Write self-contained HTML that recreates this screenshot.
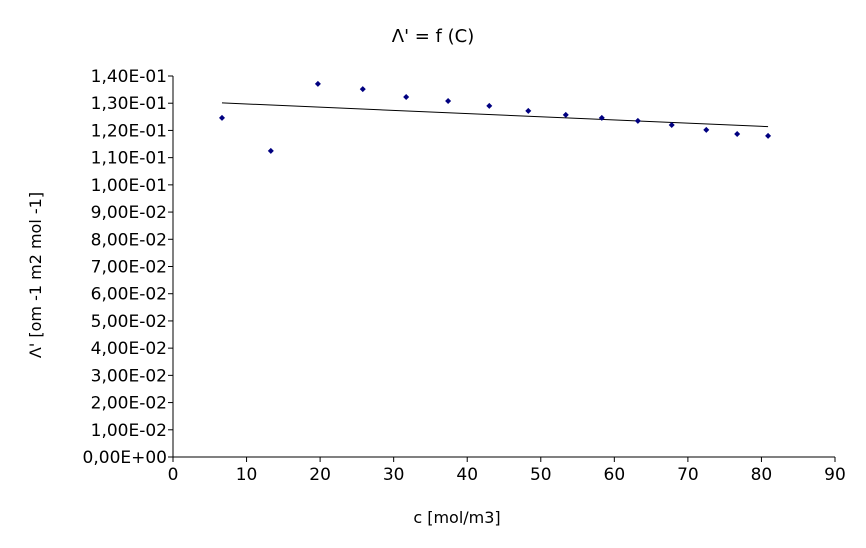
<!DOCTYPE html>
<html><head><meta charset="utf-8"><style>
body{margin:0;background:#fff;}
svg{display:block;font-family:"DejaVu Sans","Liberation Sans",sans-serif;}
</style></head><body>
<svg id="chart" width="866" height="548">
<text x="433" y="42" text-anchor="middle" font-size="18">Λ' = f (C)</text>
<text x="0" y="0" transform="translate(41,275) rotate(-90)" text-anchor="middle" font-size="16">Λ' [om -1 m2 mol -1]</text>
<text x="457" y="523" text-anchor="middle" font-size="16">c [mol/m3]</text>
<g id="axes"></g><g id="marks"></g>
</svg>
<script>
const xVals=[6.66,13.3,19.7,25.8,31.7,37.4,43.0,48.3,53.4,58.3,63.2,67.8,72.5,76.7,80.9];
const yVals=[0.1246,0.1125,0.1371,0.1352,0.1323,0.1308,0.1290,0.1272,0.1257,0.1246,0.1235,0.1220,0.1202,0.1187,0.1180];
const xTicks=[0,10,20,30,40,50,60,70,80,90];
const yTickLabels=["0,00E+00","1,00E-02","2,00E-02","3,00E-02","4,00E-02","5,00E-02","6,00E-02","7,00E-02","8,00E-02","9,00E-02","1,00E-01","1,10E-01","1,20E-01","1,30E-01","1,40E-01"];
const yTicks=[0,0.01,0.02,0.03,0.04,0.05,0.06,0.07,0.08,0.09,0.10,0.11,0.12,0.13,0.14];
const X0=173,X1=835,Y0=457,Y1=76;
const sx=v=>X0+(v-0)/90*(X1-X0);
const sy=v=>Y0-(v/0.14)*(Y0-Y1);
const NS="http://www.w3.org/2000/svg";
const axes=document.getElementById('axes'),marks=document.getElementById('marks');
function mk(tag,attrs,parent){const e=document.createElementNS(NS,tag);for(const k in attrs)e.setAttribute(k,attrs[k]);parent.appendChild(e);return e;}
let ax=mk('line',{x1:X0,y1:Y0,x2:X1,y2:Y0,stroke:'#000'},axes);


let ay=mk('line',{x1:X0,y1:Y0,x2:X0,y2:Y1,stroke:'#000'},axes);


xTicks.forEach(t=>{const x=sx(t);
 mk('line',{x1:x,y1:Y0,x2:x,y2:Y0+5,stroke:'#000'},axes);
 const tx=mk('text',{x:x,y:Y0+23,'text-anchor':'middle','font-size':17},axes);tx.textContent=t;
 
 });
yTicks.forEach((t,i)=>{const y=sy(t);
 mk('line',{x1:X0-5,y1:y,x2:X0,y2:y,stroke:'#000'},axes);
 const tx=mk('text',{x:X0-6,y:y+6,'text-anchor':'end','font-size':17},axes);tx.textContent=yTickLabels[i];
 
 });
const n=xVals.length;let mx=0,my=0;xVals.forEach((x,i)=>{mx+=x;my+=yVals[i];});mx/=n;my/=n;
let num=0,den=0;xVals.forEach((x,i)=>{num+=(x-mx)*(yVals[i]-my);den+=(x-mx)*(x-mx);});
const b=num/den,a=my-b*mx;const xa=Math.min(...xVals),xb=Math.max(...xVals);
const tl=mk('line',{x1:sx(xa),y1:sy(a+b*xa),x2:sx(xb),y2:sy(a+b*xb),stroke:'#000','stroke-width':1},marks);


xVals.forEach((x,i)=>{const cx=sx(x),cy=sy(yVals[i]);
 const p=mk('polygon',{points:`${cx},${cy-3} ${cx+3},${cy} ${cx},${cy+3} ${cx-3},${cy}`,fill:'#000080'},marks);
 
 });
</script>
</body></html>
